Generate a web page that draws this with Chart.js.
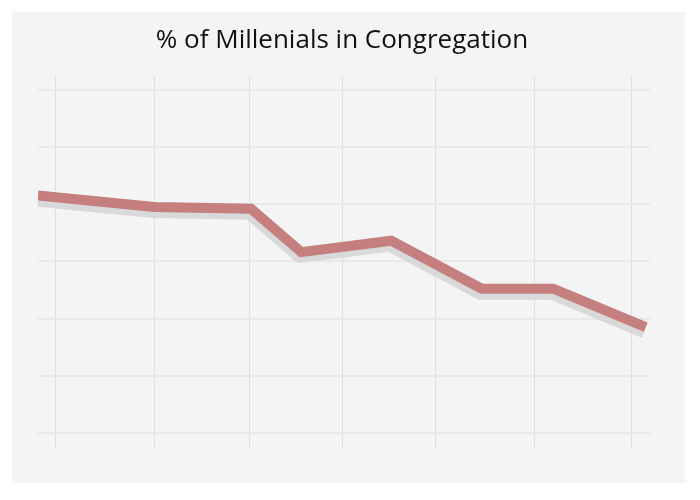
<!DOCTYPE html>
<html>
<head>
<meta charset="utf-8">
<script src="https://cdn.jsdelivr.net/npm/chart.js@4.4.0/dist/chart.umd.min.js"></script>
<style>
  html, body { margin: 0; padding: 0; background: #ffffff; }
  #wrap { width: 700px; height: 500px; }
</style>
</head>
<body>
<div id="wrap"><canvas id="c" width="700" height="500"></canvas></div>
<script>
// ---- data ----
const chartTitle = "% of Millenials in Congregation";
const xValues = [0, 19, 34.8, 43, 57.7, 72.5, 84.2, 99.3];
const yValues = [41.5, 39.5, 39.2, 31.6, 33.6, 25.2, 25.2, 18.5];
const xGridTicks = [2.8, 19, 34.6, 49.8, 64.9, 81.2, 96.9];
const yGridTicks = [0, 10, 20, 30, 40, 50, 60];

const points = xValues.map((x, i) => ({ x: x, y: yValues[i] }));

const panelPlugin = {
  id: 'panel',
  beforeDraw(chart) {
    const ctx = chart.ctx;
    ctx.save();
    ctx.fillStyle = '#ffffff';
    ctx.fillRect(0, 0, chart.width, chart.height);
    ctx.fillStyle = '#f4f4f4';
    ctx.fillRect(12, 12, 673, 471);
    ctx.restore();
  }
};

const shadowPlugin = {
  id: 'lineShadow',
  beforeDatasetsDraw(chart) {
    const ctx = chart.ctx;
    ctx.save();
    ctx.shadowColor = '#d9d9d9';
    ctx.shadowBlur = 0;
    ctx.shadowOffsetX = -2;
    ctx.shadowOffsetY = 6;
  },
  afterDatasetsDraw(chart) {
    chart.ctx.restore();
  }
};

const titlePlugin = {
  id: 'customTitle',
  afterDraw(chart) {
    const ctx = chart.ctx;
    ctx.save();
    ctx.fillStyle = '#111111';
    ctx.font = '26px "Open Sans", sans-serif';
    ctx.textAlign = 'center';
    ctx.textBaseline = 'alphabetic';
    ctx.fillText(chartTitle, 342, 48);
    ctx.restore();
  }
};

new Chart(document.getElementById('c'), {
  type: 'line',
  data: {
    datasets: [{
      data: points,
      borderColor: '#c47f7e',
      borderWidth: 10,
      borderJoinStyle: 'miter',
      borderCapStyle: 'butt',
      pointRadius: 0,
      pointHoverRadius: 0,
      tension: 0,
      fill: false
    }]
  },
  options: {
    responsive: false,
    devicePixelRatio: 1,
    animation: false,
    events: [],
    layout: { padding: { left: 38, right: 50, top: 77, bottom: 51 } },
    plugins: {
      legend: { display: false },
      title: { display: false },
      tooltip: { enabled: false }
    },
    scales: {
      x: {
        type: 'linear',
        min: 0,
        max: 100,
        afterBuildTicks(scale) { scale.ticks = xGridTicks.map(v => ({ value: v })); },
        ticks: { display: false },
        border: { display: false },
        grid: { color: '#dddddd', lineWidth: 1, drawTicks: false }
      },
      y: {
        type: 'linear',
        min: -2.8,
        max: 62.2,
        afterBuildTicks(scale) { scale.ticks = yGridTicks.map(v => ({ value: v })); },
        ticks: { display: false },
        border: { display: false },
        grid: { color: '#e8e8e8', lineWidth: 2, drawTicks: false }
      }
    }
  },
  plugins: [panelPlugin, shadowPlugin, titlePlugin]
});
</script>
</body>
</html>
